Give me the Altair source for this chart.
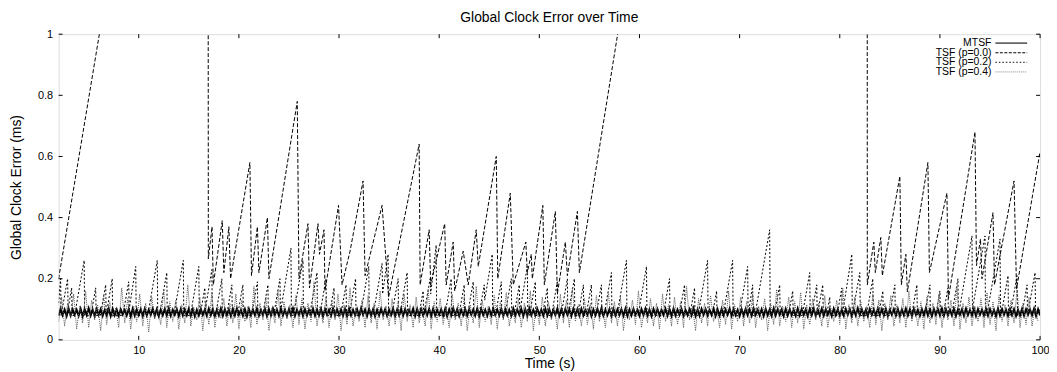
import altair as alt
import pandas as pd

FONT = "Liberation Sans"
TITLE = "Global Clock Error over Time"
X_TITLE = "Time (s)"
Y_TITLE = "Global Clock Error (ms)"
SERIES = ["MTSF", "TSF (p=0.0)", "TSF (p=0.2)", "TSF (p=0.4)"]
X_TICKS = [10, 20, 30, 40, 50, 60, 70, 80, 90, 100]
Y_TICKS = [0, 0.2, 0.4, 0.6, 0.8, 1.0]

# MTSF: sampled every 0.2 s from t = 2 s, values in microseconds
MTSF_START, MTSF_STEP = 2.0, 0.2
MTSF_US = [
    79, 101, 81, 99, 78, 102, 80, 100, 82, 98, 79, 101, 77, 100, 81, 103, 80, 99, 78, 101,
    82, 100, 79, 98, 80, 102, 78, 101, 81, 99, 79, 100, 83, 98, 80, 101, 77, 102, 80, 99,
    81, 100, 78, 101, 80, 98, 82, 102, 79, 100, 78, 99, 81, 101, 80, 103, 79, 98, 82, 100,
    78, 101, 80, 99, 81, 102, 79, 100, 77, 98, 80, 101, 82, 99, 79, 102, 81, 100, 78, 98,
    80, 102, 79, 100, 81, 99, 78, 101, 80, 103, 82, 98, 79, 100, 77, 101, 80, 99, 81, 102,
    79, 98, 81, 101, 78, 100, 80, 102, 82, 99, 79, 101, 80, 98, 78, 100, 81, 103, 79, 99,
    82, 101, 78, 100, 80, 98, 81, 102, 79, 99, 80, 101, 77, 100, 82, 98, 79, 102, 80, 100,
    81, 99, 79, 101, 78, 102, 80, 98, 81, 100, 79, 103, 82, 99, 78, 101, 80, 100, 77, 98,
    80, 101, 82, 100, 79, 98, 81, 102, 78, 99, 80, 101, 79, 100, 81, 98, 82, 102, 78, 101,
    79, 100, 80, 99, 81, 101, 78, 102, 80, 98, 82, 100, 79, 101, 77, 99, 80, 103, 81, 100,
    78, 98, 81, 101, 79, 100, 82, 99, 80, 102, 78, 101, 81, 98, 79, 100, 80, 102, 82, 99,
    80, 101, 78, 100, 81, 98, 79, 102, 80, 99, 82, 101, 78, 100, 79, 103, 81, 98, 80, 101,
    82, 99, 79, 101, 80, 100, 78, 98, 81, 102, 79, 100, 80, 101, 82, 99, 78, 102, 81, 100,
    79, 101, 80, 98, 82, 100, 78, 99, 81, 101, 80, 103, 79, 98, 81, 100, 78, 101, 80, 99,
    81, 100, 79, 102, 78, 99, 80, 101, 82, 98, 79, 100, 81, 102, 80, 99, 78, 101, 82, 100,
    80, 98, 81, 101, 79, 100, 78, 102, 80, 99, 82, 101, 79, 98, 81, 100, 80, 103, 78, 99,
    79, 101, 82, 100, 80, 98, 81, 102, 78, 100, 79, 101, 80, 99, 82, 102, 79, 100, 81, 98,
    78, 100, 80, 101, 81, 99, 79, 102, 82, 98, 80, 100, 78, 101, 81, 99, 79, 103, 80, 100,
    82, 99, 78, 101, 80, 100, 81, 98, 79, 102, 80, 101, 82, 99, 78, 100, 81, 102, 79, 98,
    80, 101, 79, 100, 82, 99, 78, 102, 81, 100, 80, 98, 79, 101, 82, 100, 78, 99, 80, 103,
    81, 100, 80, 98, 78, 101, 82, 99, 79, 102, 81, 100, 80, 101, 78, 98, 82, 100, 79, 101,
    79, 99, 81, 102, 80, 100, 78, 101, 82, 98, 79, 100, 81, 103, 80, 99, 78, 101, 82, 100,
    80, 102, 79, 100, 81, 98, 80, 101, 78, 99, 82, 100, 79, 102, 81, 98, 80, 101, 78, 100,
    82, 99, 80, 101, 79, 100, 81, 98, 78, 102, 80, 100, 82, 99, 79, 101, 81, 100, 78, 98,
    80, 101, 79, 100, 82, 99, 81, 102, 78, 100, 80,
]

# TSF (p=0.4): sampled every 0.3 s from t = 2 s, values in microseconds
P04_START, P04_STEP = 2.0, 0.3
P04_US = [
    60, 140, 45, 120, 70, 150, 35, 110, 55, 160, 40, 130, 65, 115, 30, 145, 50, 125, 75, 105,
    40, 170, 55, 135, 35, 110, 60, 150, 45, 120, 25, 140, 70, 100, 50, 165, 40, 125, 60, 130,
    35, 115, 55, 180, 45, 105, 65, 140, 30, 125, 50, 155, 40, 110, 70, 135, 45, 120, 55, 150,
    35, 130, 60, 110, 40, 175, 50, 120, 65, 140, 30, 105, 55, 160, 45, 125, 70, 115, 40, 145,
    50, 135, 35, 120, 60, 190, 45, 110, 55, 140, 40, 125, 65, 150, 30, 115, 50, 170, 45, 105,
    60, 130, 40, 145, 55, 120, 35, 160, 65, 110, 45, 135, 50, 125, 30, 150, 60, 115, 40, 140,
    55, 105, 45, 165, 35, 125, 60, 135, 50, 110, 40, 150, 65, 120, 45, 140, 30, 115, 55, 175,
    40, 130, 60, 110, 50, 145, 35, 125, 65, 155, 45, 105, 55, 135, 40, 120, 60, 160, 30, 115,
    50, 140, 45, 125, 65, 110, 35, 150, 55, 130, 40, 170, 60, 115, 45, 135, 50, 120, 35, 145,
    60, 110, 40, 155, 55, 125, 45, 140, 30, 115, 65, 130, 50, 160, 40, 105, 55, 135, 45, 120,
    35, 150, 60, 115, 45, 140, 50, 125, 40, 175, 65, 110, 30, 135, 55, 120, 45, 145, 60, 105,
    40, 130, 50, 160, 35, 115, 60, 140, 45, 125, 55, 150, 40, 110, 65, 135, 30, 120, 50, 165,
    45, 110, 60, 140, 40, 125, 55, 155, 35, 115, 50, 135, 65, 120, 45, 145, 40, 105, 60, 130,
    50, 170, 35, 115, 55, 140, 45, 125, 60, 110, 40, 150, 50, 130, 30, 120, 65, 145, 45, 115,
    55, 135, 40, 160, 60, 110, 45, 125, 35, 140, 55, 120, 50, 150, 40, 115, 65, 130, 45, 175,
    35, 120, 55, 140, 45, 110, 60, 135, 40, 155, 50, 125, 30, 145, 60, 115, 45, 130, 55, 165,
    40, 120, 50, 140, 45, 110, 60,
]

# TSF (p=0.0): (time s, error ms) vertices
P00 = [
    (2.0, 0.20), (16.9, 3.13), (16.95, 0.265), (17.32, 0.37), (17.45, 0.18), (18.34, 0.39),
    (18.5, 0.22), (19.0, 0.37), (19.17, 0.20), (21.1, 0.58), (21.26, 0.21), (21.85, 0.37),
    (22.0, 0.22), (22.85, 0.40), (23.0, 0.20), (25.83, 0.78), (26.0, 0.20), (26.9, 0.38),
    (27.05, 0.17), (27.9, 0.38), (28.05, 0.28), (28.5, 0.36), (28.6, 0.16), (29.95, 0.44),
    (30.3, 0.18), (31.1, 0.29), (32.4, 0.52), (32.6, 0.21), (34.3, 0.44), (34.95, 0.14),
    (38.0, 0.64), (38.1, 0.18), (39.0, 0.36), (39.15, 0.18), (40.55, 0.38), (40.7, 0.18),
    (41.4, 0.32), (41.55, 0.16), (42.4, 0.29), (42.9, 0.18), (43.7, 0.36), (43.9, 0.24),
    (45.7, 0.60), (45.85, 0.20), (47.1, 0.48), (47.4, 0.18), (48.65, 0.32), (48.8, 0.22),
    (49.2, 0.28), (49.3, 0.20), (50.35, 0.44), (50.5, 0.18), (51.6, 0.42), (51.8, 0.15),
    (52.6, 0.32), (52.8, 0.21), (53.8, 0.42), (54.0, 0.22), (82.7, 6.08), (82.75, 0.18),
    (83.4, 0.32), (83.55, 0.22), (84.1, 0.335), (84.25, 0.21), (86.0, 0.535), (86.15, 0.18),
    (86.6, 0.28), (86.75, 0.157), (88.8, 0.58), (88.95, 0.22), (90.7, 0.48), (90.85, 0.135),
    (93.5, 0.68), (93.65, 0.243), (94.05, 0.33), (94.2, 0.20), (95.3, 0.416), (95.45, 0.18),
    (97.4, 0.52), (97.65, 0.167), (100.0, 0.616),
]

# TSF (p=0.2): (time s, error ms) vertices
P02 = [
    (2.0, 0.12), (2.2, 0.20), (2.25, 0.08), (2.9, 0.20), (2.95, 0.10), (3.3, 0.17), (3.35, 0.08),
    (3.6, 0.08), (4.55, 0.26), (4.6, 0.08), (5.23, 0.08), (5.7, 0.17), (5.75, 0.08), (6.17, 0.08),
    (6.7, 0.18), (6.75, 0.08), (7.35, 0.20), (7.4, 0.08), (8.42, 0.08), (9.0, 0.19), (9.05, 0.10),
    (9.7, 0.24), (9.75, 0.08), (10.9, 0.08), (11.85, 0.26), (11.9, 0.08), (12.06, 0.08), (12.8, 0.22),
    (12.85, 0.08), (13.5, 0.08), (14.45, 0.26), (14.5, 0.08), (15.16, 0.08), (16.0, 0.24), (16.05, 0.08),
    (16.13, 0.08), (16.6, 0.17), (16.65, 0.10), (17.3, 0.23), (17.35, 0.08), (17.67, 0.08), (18.3, 0.20),
    (18.35, 0.08), (18.77, 0.08), (19.3, 0.18), (19.35, 0.08), (19.87, 0.08), (20.4, 0.18), (20.45, 0.08),
    (21.27, 0.08), (21.85, 0.19), (21.9, 0.08), (22.37, 0.08), (22.9, 0.18), (22.95, 0.08), (23.47, 0.08),
    (24.1, 0.20), (24.15, 0.09), (25.2, 0.30), (25.25, 0.08), (25.45, 0.08), (26.4, 0.26), (26.45, 0.08),
    (27.06, 0.08), (27.8, 0.22), (27.85, 0.08), (28.07, 0.08), (28.7, 0.20), (28.75, 0.08), (29.03, 0.08),
    (29.5, 0.17), (29.55, 0.08), (30.17, 0.08), (30.7, 0.18), (30.75, 0.08), (31.02, 0.08), (31.65, 0.20),
    (31.7, 0.08), (32.13, 0.08), (32.97, 0.24), (33.02, 0.08), (33.4, 0.08), (34.3, 0.25), (34.35, 0.15),
    (34.9, 0.28), (34.95, 0.08), (35.27, 0.08), (35.9, 0.20), (35.95, 0.08), (36.06, 0.08), (36.8, 0.22),
    (36.85, 0.08), (37.98, 0.08), (38.4, 0.16), (38.45, 0.08), (39.1, 0.20), (39.15, 0.15), (39.7, 0.31),
    (39.75, 0.08), (40.57, 0.08), (41.2, 0.20), (41.25, 0.08), (41.97, 0.08), (42.5, 0.18), (42.55, 0.08),
    (42.82, 0.08), (43.4, 0.19), (43.45, 0.08), (43.97, 0.08), (44.5, 0.18), (44.55, 0.13), (45.3, 0.28),
    (45.35, 0.08), (45.62, 0.08), (46.2, 0.19), (46.25, 0.08), (46.57, 0.08), (47.2, 0.20), (47.25, 0.08),
    (47.47, 0.08), (48.0, 0.18), (48.05, 0.09), (48.8, 0.24), (48.85, 0.08), (49.02, 0.08), (49.6, 0.19),
    (49.65, 0.08), (50.33, 0.08), (50.8, 0.17), (50.85, 0.08), (51.22, 0.08), (51.8, 0.19), (51.85, 0.08),
    (52.17, 0.08), (52.8, 0.20), (52.85, 0.08), (53.5, 0.20), (53.55, 0.08), (53.87, 0.08), (54.4, 0.18),
    (54.45, 0.08), (54.67, 0.08), (55.2, 0.18), (55.25, 0.08), (55.67, 0.08), (56.2, 0.18), (56.25, 0.08),
    (56.46, 0.08), (57.2, 0.22), (57.25, 0.08), (57.75, 0.08), (58.7, 0.26), (58.75, 0.08), (59.86, 0.08),
    (60.7, 0.24), (60.75, 0.08), (62.37, 0.08), (63.0, 0.20), (63.05, 0.08), (63.97, 0.08), (64.5, 0.18),
    (64.55, 0.08), (65.03, 0.08), (65.5, 0.17), (65.55, 0.08), (65.85, 0.08), (66.8, 0.26), (66.85, 0.08),
    (67.28, 0.08), (67.7, 0.16), (67.75, 0.08), (68.35, 0.08), (69.3, 0.26), (69.35, 0.08), (69.96, 0.08),
    (70.8, 0.24), (70.85, 0.08), (71.3, 0.18), (71.35, 0.08), (71.53, 0.08), (73.0, 0.36), (73.05, 0.08),
    (73.47, 0.08), (74.0, 0.18), (74.05, 0.08), (74.88, 0.08), (75.3, 0.16), (75.35, 0.08), (76.26, 0.08),
    (77.0, 0.22), (77.05, 0.08), (77.17, 0.08), (77.7, 0.18), (77.75, 0.08), (78.3, 0.18), (78.35, 0.08),
    (78.68, 0.08), (79.0, 0.14), (79.05, 0.08), (79.73, 0.08), (80.2, 0.17), (80.25, 0.08), (81.2, 0.28),
    (81.25, 0.08), (82.0, 0.22), (82.05, 0.08), (82.67, 0.08), (83.3, 0.20), (83.35, 0.08), (83.88, 0.08),
    (84.3, 0.16), (84.35, 0.08), (84.97, 0.08), (85.5, 0.18), (85.55, 0.08), (87.17, 0.08), (87.7, 0.18),
    (87.75, 0.08), (88.47, 0.08), (89.0, 0.18), (89.05, 0.08), (89.58, 0.08), (90.0, 0.16), (90.05, 0.08),
    (90.33, 0.08), (90.8, 0.17), (90.85, 0.08), (91.17, 0.08), (91.8, 0.20), (91.85, 0.08), (93.2, 0.34),
    (93.25, 0.10), (94.5, 0.34), (94.55, 0.08), (94.68, 0.08), (96.0, 0.33), (96.05, 0.08), (96.12, 0.08),
    (96.8, 0.21), (96.85, 0.08), (97.02, 0.08), (97.7, 0.21), (97.75, 0.08), (98.17, 0.08), (98.7, 0.18),
    (98.75, 0.08), (99.5, 0.22), (99.55, 0.08), (100.0, 0.10),
]

# ---- build tables ----
mtsf_df = pd.DataFrame({"t": [MTSF_START + MTSF_STEP * i for i in range(len(MTSF_US))],
                        "v": [u / 1000.0 for u in MTSF_US]})
p04_df = pd.DataFrame({"t": [P04_START + P04_STEP * i for i in range(len(P04_US))],
                       "v": [u / 1000.0 for u in P04_US]})
p00_df = pd.DataFrame(P00, columns=["t", "v"])
p02_df = pd.DataFrame(P02, columns=["t", "v"])

W, H = 989, 308
x_scale = alt.Scale(domain=[2, 100], nice=False, zero=False)
y_scale = alt.Scale(domain=[0, 1], nice=False, zero=False)

x_axis = alt.Axis(values=X_TICKS, title=X_TITLE, grid=False, ticks=False, tickSize=0, domain=False,
                  labelFontSize=11, labelFont=FONT, labelColor="black", labelPadding=5, labelFlush=False,
                  titleFontSize=14, titleFont=FONT, titleFontWeight="normal", titleColor="black",
                  titlePadding=1)
y_axis = alt.Axis(values=Y_TICKS, title=Y_TITLE, format=".1~f", grid=False, ticks=False, tickSize=0,
                  domain=False, labelFontSize=11, labelFont=FONT, labelColor="black", labelPadding=6,
                  titleFontSize=14, titleFont=FONT, titleFontWeight="normal", titleColor="black",
                  titlePadding=14)
X = lambda: alt.X("t:Q", scale=x_scale, axis=x_axis, title=X_TITLE)
Y = lambda: alt.Y("v:Q", scale=y_scale, axis=y_axis, title=Y_TITLE)

STYLES = {
    "MTSF": dict(stroke="black", strokeWidth=2.0),
    "TSF (p=0.0)": dict(stroke="black", strokeWidth=1.0, strokeDash=[4, 2]),
    "TSF (p=0.2)": dict(stroke="black", strokeWidth=1.0, strokeDash=[2, 2]),
    "TSF (p=0.4)": dict(stroke="#5a5a5a", strokeWidth=1.0, strokeDash=[1, 1]),
}


def series_layer(df, name):
    return alt.Chart(df).mark_line(clip=True, **STYLES[name]).encode(x=X(), y=Y())


layers = [
    series_layer(mtsf_df, "MTSF"),
    series_layer(p00_df, "TSF (p=0.0)"),
    series_layer(p02_df, "TSF (p=0.2)"),
    series_layer(p04_df, "TSF (p=0.4)"),
]

# inward tick marks on all four sides (gnuplot style)
xt = pd.DataFrame({"t": X_TICKS})
yt = pd.DataFrame({"v": Y_TICKS})
TICK = 4
rule = dict(color="black", strokeWidth=1)
layers += [
    alt.Chart(xt).mark_rule(**rule).encode(x=X(), y=alt.value(H), y2=alt.value(H - TICK)),
    alt.Chart(xt).mark_rule(**rule).encode(x=X(), y=alt.value(0), y2=alt.value(TICK)),
    alt.Chart(yt).mark_rule(**rule).encode(y=Y(), x=alt.value(0), x2=alt.value(TICK)),
    alt.Chart(yt).mark_rule(**rule).encode(y=Y(), x=alt.value(W), x2=alt.value(W - TICK)),
]

# legend, inside top-right, labels right-aligned left of the line samples
LEGEND_Y = [9.0, 18.7, 28.3, 38.0]
LEGEND_TEXT_X = 940
LEGEND_LINE_X = (944, 976)
LEGEND_SAMPLE = {
    "MTSF": dict(stroke="#666666", strokeWidth=1.8),
    "TSF (p=0.0)": dict(stroke="black", strokeWidth=1.0, strokeDash=[3, 1.5]),
    "TSF (p=0.2)": dict(stroke="black", strokeWidth=1.0, strokeDash=[1.5, 2]),
    "TSF (p=0.4)": dict(stroke="#8a8a8a", strokeWidth=1.0, strokeDash=[1, 1]),
}
for name, ly in zip(SERIES, LEGEND_Y):
    ldf = pd.DataFrame({"name": [name]})
    layers.append(alt.Chart(ldf).mark_text(align="right", baseline="middle", fontSize=10.5, font=FONT,
                                           color="black").encode(
        x=alt.value(LEGEND_TEXT_X), y=alt.value(ly), text="name:N"))
    layers.append(alt.Chart(ldf).mark_rule(**LEGEND_SAMPLE[name]).encode(
        x=alt.value(LEGEND_LINE_X[0]), x2=alt.value(LEGEND_LINE_X[1]), y=alt.value(ly)))

chart = alt.layer(*layers).properties(
    width=W, height=H,
    title=alt.TitleParams(TITLE, fontSize=14, font=FONT, fontWeight="normal", color="black",
                          anchor="middle", offset=3),
    padding={"left": 51, "top": 25, "right": 9, "bottom": 31},
    autosize=alt.AutoSizeParams(type="none"),
).configure_view(stroke="black", strokeWidth=1).configure(background="white")

chart.save("out.html", embed_options={"renderer": "svg", "actions": False})
